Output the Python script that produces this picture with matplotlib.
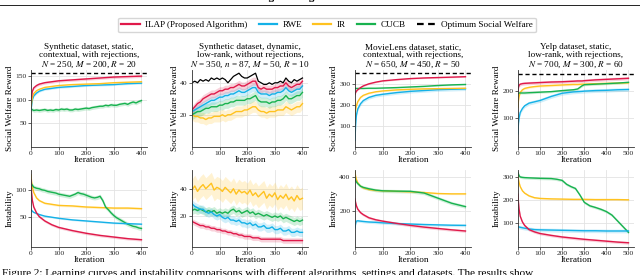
import matplotlib
matplotlib.use("Agg")
import matplotlib.pyplot as plt
from matplotlib.lines import Line2D
import numpy as np

plt.rcParams['font.family'] = ['Liberation Serif', 'DejaVu Serif']
plt.rcParams['mathtext.fontset'] = 'stix'

# ---- data -------------------------------------------------------------
it10 = list(range(0, 401, 10))

# Synthetic static -- reward
a_x = [0, 5, 10, 20, 30, 50, 75, 100, 150, 200, 250, 300, 350, 400]
a_red = [98, 118, 125, 130, 133, 136, 138, 140, 142, 144, 146, 148, 149, 150]
a_yel = [85, 105, 113, 119, 122, 126, 128, 130, 132, 133, 134, 136, 137, 138]
a_blu = [78, 100, 108, 114, 118, 122, 124, 126, 128, 130, 131, 132, 134, 135]
a_grn = [80, 77, 78, 77, 78, 79, 77, 78, 77, 79, 78, 80, 79, 80, 78, 78, 80, 79, 80, 81, 82,
         81, 83, 84, 85, 86, 86, 88, 87, 89, 88, 88, 90, 91, 92, 90, 93, 95, 93, 96, 98]
a_opt = 157

# Synthetic dynamic -- reward
b_opt = [40, 41, 40, 42, 41, 42, 41, 43, 42, 43, 42, 43, 42, 40, 42, 44, 45, 46, 44, 43, 43,
         44, 45, 46, 41, 40, 39, 39, 40, 39, 40, 40, 41, 40, 43, 41, 40, 42, 41, 42, 43]
b_red = [23, 25, 27, 28, 30, 31, 32, 33, 33, 34, 35, 35, 36, 36, 37, 37, 38, 39, 38, 38, 39,
         40, 41, 41, 37, 36, 37, 36, 36, 36, 37, 37, 38, 38, 40, 38, 37, 38, 39, 39, 41]
b_blu = [22, 23, 24, 25, 26, 27, 28, 29, 29, 30, 31, 31, 32, 32, 33, 33, 34, 35, 34, 34, 35,
         36, 37, 37, 34, 33, 33, 33, 32, 33, 33, 34, 34, 35, 37, 35, 34, 35, 36, 36, 38]
b_grn = [20, 21, 22, 22, 23, 24, 24, 25, 25, 25, 26, 26, 27, 27, 28, 28, 29, 29, 29, 29, 30,
         30, 31, 32, 29, 28, 28, 28, 27, 28, 28, 29, 29, 30, 32, 30, 30, 31, 32, 32, 34]
b_yel = [20, 19, 19, 18, 18, 17, 18, 18, 19, 19, 19, 20, 19, 20, 20, 21, 22, 22, 22, 23, 23,
         24, 25, 25, 23, 22, 22, 21, 22, 22, 22, 23, 23, 23, 25, 24, 23, 24, 25, 25, 27]

# MovieLens -- reward
c_x = [0, 2, 5, 10, 20, 30, 50, 75, 100, 150, 200, 250, 300, 350, 400]
c_red = [250, 258, 265, 272, 282, 290, 300, 308, 314, 320, 325, 328, 330, 332, 334]
c_grn = [278, 278, 278, 278, 278, 278, 279, 279, 280, 282, 285, 288, 292, 295, 297]
c_yel = [150, 175, 195, 215, 235, 245, 255, 262, 266, 271, 274, 276, 277, 278, 279]
c_blu = [30, 100, 150, 180, 205, 220, 235, 245, 250, 258, 264, 268, 272, 274, 276]
c_opt = 352

# Yelp -- reward
d_x = [0, 2, 5, 10, 20, 30, 50, 75, 100, 150, 200, 250, 270, 290, 300, 350, 400, 450, 500]
d_red = [200, 215, 222, 226, 228, 229, 230, 231, 232, 234, 235, 237, 238, 238, 239, 242, 244, 246, 248]
d_yel = [140, 165, 180, 195, 205, 210, 214, 217, 219, 221, 223, 225, 225, 226, 226, 228, 229, 230, 231]
d_grn = [190, 192, 193, 193, 193, 193, 194, 195, 196, 198, 202, 205, 208, 220, 224, 226, 228, 230, 233]
d_blu = [40, 80, 100, 120, 135, 145, 155, 160, 165, 180, 192, 197, 198, 199, 200, 202, 203, 205, 206]
d_opt = 265

# Synthetic static -- instability
e_x = [0, 2, 5, 10, 20, 30, 50, 75, 100, 150, 200, 250, 300, 350, 400]
e_red = [118, 95, 80, 68, 57, 50, 42, 35, 30, 24, 19, 15, 12, 9, 7]
e_blu = [64, 62, 60, 58, 56, 54, 51, 49, 47, 44, 42, 40, 38, 37, 36]
e_yel = [128, 115, 105, 95, 85, 80, 75, 73, 71, 70, 68, 67, 66, 66, 65]
e_grn = [112, 105, 103, 102, 100, 99, 97, 96, 95, 94, 92, 91, 90, 89, 88, 90, 92, 95, 93, 92, 90,
         88, 86, 85, 86, 88, 80, 68, 63, 57, 52, 48, 45, 42, 39, 36, 34, 32, 31, 29, 28]

# Synthetic dynamic -- instability
f_yel = [39, 42, 38, 41, 43, 40, 42, 44, 39, 41, 40, 38, 41, 39, 37, 40, 36, 39, 37, 38, 36,
         39, 35, 37, 34, 36, 38, 33, 36, 34, 37, 32, 35, 33, 36, 32, 34, 31, 35, 32, 33]
f_grn = [24, 25, 24, 25, 24, 23, 24, 23, 24, 22, 23, 22, 23, 22, 24, 25, 23, 24, 22, 23, 24,
         22, 23, 21, 22, 21, 20, 21, 20, 19, 20, 19, 20, 18, 19, 18, 17, 16, 17, 16, 17]
f_blu = [29, 27, 26, 25, 25, 23, 22, 23, 21, 20, 21, 19, 18, 19, 17, 17, 16, 17, 15, 15, 14,
         15, 13, 14, 12, 12, 13, 11, 11, 12, 10, 10, 11, 9, 9, 10, 8, 8, 9, 8, 8]
f_red = [16, 15, 14, 13, 13, 12, 12, 11, 11, 10, 10, 9, 9, 8, 8, 7, 7, 6, 6, 5, 5,
         5, 4, 4, 4, 3, 3, 3, 3, 3, 3, 3, 3, 2, 2, 2, 2, 2, 2, 2, 2]

# MovieLens -- instability
g_x = [0, 2, 5, 10, 20, 30, 50, 75, 100, 150, 200, 250, 300, 350, 400]
g_yel = [430, 405, 385, 365, 345, 335, 325, 320, 318, 315, 312, 308, 302, 300, 300]
g_grn = [395, 380, 370, 360, 345, 338, 330, 322, 318, 316, 315, 305, 275, 245, 225]
g_red = [270, 250, 230, 210, 190, 178, 160, 148, 140, 127, 115, 105, 97, 89, 82]
g_blu = [100, 125, 140, 142, 140, 138, 135, 133, 130, 126, 123, 120, 118, 116, 115]

# Yelp -- instability
h_x = [0, 2, 5, 10, 20, 30, 50, 75, 100, 150, 200, 250, 300, 350, 400, 450, 500]
h_yel = [310, 290, 275, 258, 240, 230, 218, 210, 207, 205, 204, 203, 203, 202, 202, 202, 201]
h_red = [225, 190, 160, 130, 105, 90, 72, 62, 55, 47, 40, 35, 30, 26, 22, 18, 15]
h_blu = [85, 84, 83, 82, 80, 78, 75, 72, 71, 70, 69, 68, 67, 67, 66, 66, 66]
h_gx = [0, 5, 10, 20, 30, 50, 75, 100, 150, 175, 200, 220, 240, 260, 280, 300, 325, 350,
        375, 400, 425, 450, 475, 500]
h_grn = [318, 305, 300, 298, 297, 296, 295, 294, 293, 290, 285, 268, 258, 250, 222, 190, 175,
         168, 160, 150, 135, 110, 85, 60]

titles = [
    "Synthetic dataset, static,\ncontextual, with rejections,\n$N$ = 250, $M$ = 200, $R$ = 20",
    "Synthetic dataset, dynamic,\nlow-rank, without rejections,\n$N$ = 350, $n$ = 87, $M$ = 50, $R$ = 10",
    "MovieLens dataset, static,\ncontextual, with rejections,\n$N$ = 650, $M$ = 450, $R$ = 50",
    "Yelp dataset, static,\nlow-rank, with rejections,\n$N$ = 700, $M$ = 300, $R$ = 60",
]
names = ["ILAP (Proposed Algorithm)", "RWE", "IR", "CUCB", "Optimum Social Welfare"]

# ---- styling -----------------------------------------------------------
RED, BLU, YEL, GRN = '#E0194A', '#14B1E7', '#FFC21F', '#18B24F'
FS = 6.6

fig = plt.figure(figsize=(6.4, 2.75), dpi=100)
W, H = 640, 275
lefts = [31, 192, 355, 518]
width = 116


def make_ax(col, top_px, bottom_px):
    l = lefts[col]
    ax = fig.add_axes([l / W, 1 - bottom_px / H, width / W, (bottom_px - top_px) / H])
    for s in ['top', 'right']:
        ax.spines[s].set_visible(False)
    for s in ['left', 'bottom']:
        ax.spines[s].set_color('#333333')
        ax.spines[s].set_linewidth(0.6)
    ax.grid(True, color='#e3e3e3', lw=0.6)
    ax.set_axisbelow(True)
    ax.tick_params(labelsize=5.4, length=2, width=0.5, pad=1.2, colors='#222222')
    ax.set_xlabel("Iteration", fontsize=FS, labelpad=0)
    return ax


def line(ax, x, y, c, band, lw=1.0):
    y = np.asarray(y, float)
    ax.fill_between(x, y - band, y + band, color=c, alpha=0.2, lw=0)
    ax.plot(x, y, color=c, lw=lw)


top = [make_ax(i, 70, 146.7) for i in range(4)]
bot = [make_ax(i, 170, 246.7) for i in range(4)]

ax = top[0]
line(ax, it10, a_grn, GRN, 4)
line(ax, a_x, a_blu, BLU, 2)
line(ax, a_x, a_yel, YEL, 2)
line(ax, a_x, a_red, RED, 3)
ax.axhline(a_opt, color='k', ls='--', lw=1.0, dashes=(3, 2))
ax.set_ylim(0, 163); ax.set_yticks([50, 100, 150])

ax = top[1]
line(ax, it10, b_yel, YEL, 3.5)
line(ax, it10, b_grn, GRN, 3)
line(ax, it10, b_blu, BLU, 2.5)
line(ax, it10, b_red, RED, 2.5)
ax.plot(it10, b_opt, color='k', lw=0.9)
ax.set_ylim(0, 48); ax.set_yticks([20, 40])

ax = top[2]
line(ax, c_x, c_blu, BLU, 8)
line(ax, c_x, c_yel, YEL, 4)
line(ax, c_x, c_grn, GRN, 3)
line(ax, c_x, c_red, RED, 3)
ax.axhline(c_opt, color='k', ls='--', lw=1.0, dashes=(3, 2))
ax.set_ylim(0, 366); ax.set_yticks([100, 200, 300])

ax = top[3]
line(ax, d_x, d_blu, BLU, 7)
line(ax, d_x, d_yel, YEL, 4)
line(ax, d_x, d_grn, GRN, 4)
line(ax, d_x, d_red, RED, 6)
ax.axhline(d_opt, color='k', ls='--', lw=1.0, dashes=(3, 2))
ax.set_ylim(-8, 279); ax.set_yticks([100, 200])

ax = bot[0]
line(ax, e_x, e_yel, YEL, 2)
line(ax, it10, e_grn, GRN, 4)
line(ax, e_x, e_blu, BLU, 1.5)
line(ax, e_x, e_red, RED, 2.5)
ax.set_ylim(-6, 137); ax.set_yticks([50, 100])

ax = bot[1]
line(ax, it10, f_yel, YEL, 8)
line(ax, it10, f_grn, GRN, 3)
line(ax, it10, f_blu, BLU, 3)
line(ax, it10, f_red, RED, 2)
ax.set_ylim(-2.5, 53.7); ax.set_yticks([20, 40])

ax = bot[2]
line(ax, g_x, g_yel, YEL, 5)
line(ax, g_x, g_grn, GRN, 10)
line(ax, g_x, g_blu, BLU, 8)
line(ax, g_x, g_red, RED, 8)
ax.set_ylim(-10, 440); ax.set_yticks([200, 400])

ax = bot[3]
line(ax, h_x, h_yel, YEL, 4)
line(ax, h_gx, h_grn, GRN, 6)
line(ax, h_x, h_blu, BLU, 8)
line(ax, h_x, h_red, RED, 6)
ax.set_ylim(-2, 330); ax.set_yticks([100, 200, 300])

for i in range(4):
    xmax = 525 if i == 3 else 420
    ticks = [0, 100, 200, 300, 400, 500] if i == 3 else [0, 100, 200, 300, 400]
    for ax in (top[i], bot[i]):
        ax.set_xlim(0, xmax)
        ax.set_xticks(ticks)
    top[i].set_ylabel("Social Welfare Reward", fontsize=FS, labelpad=1)
    bot[i].set_ylabel("Instability", fontsize=FS, labelpad=1)
    top[i].set_title(titles[i], fontsize=FS, pad=2.5, linespacing=1.0)

handles = [Line2D([], [], color=c, lw=1.6) for c in (RED, BLU, YEL, GRN)]
handles.append(Line2D([], [], color='k', lw=1.6, ls='--', dashes=(3, 2)))
fig.legend(handles, names, loc='center', bbox_to_anchor=(327 / W, 1 - 25 / H),
           ncol=5, fontsize=FS, frameon=True, fancybox=True, edgecolor='#cccccc',
           handlelength=2.0, columnspacing=1.2, handletextpad=0.6, borderpad=0.35)

# page header rule and cropped caption
fig.add_artist(Line2D([0, 1], [1 - 5 / H, 1 - 5 / H], color='#222222', lw=0.7))
fig.text(0.5, 1 + 2 / H, "Running heading title breaks the line", ha='center', va='center',
         fontsize=8, fontweight='bold')
fig.text(2 / W, 1 - 268 / H, "Figure 2: Learning curves and instability comparisons with different "
         "algorithms, settings and datasets. The results show",
         ha='left', va='top', fontsize=8)

fig.savefig("out.png", dpi=100)
